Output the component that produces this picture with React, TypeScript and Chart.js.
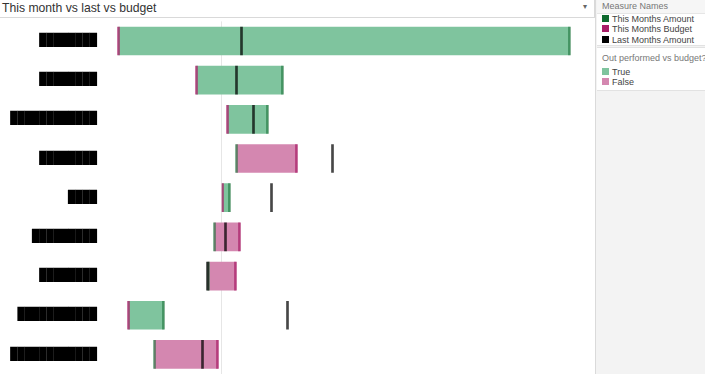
import React, { useEffect, useRef } from "react";
import { Chart, registerables } from "chart.js";
Chart.register(...registerables);

// Category labels (redacted in the reference)
const categories = [
  "████████",
  "████████",
  "████████████",
  "████████",
  "████",
  "█████████",
  "████████",
  "███████████",
  "████████████",
];
const thisMonthsAmount = [348, 61, 46, 15, 8, -7, -13, -58, -67];
const thisMonthsBudget = [-103, -25, 6, 75, 1, 18, 14, -93, -4];
const lastMonthsAmount = [20, 15, 32, 111, 50, 4, -14, 66, -19];

const measureNames = ["This Months Amount", "This Months Budget", "Last Months Amount"];
const measureColors = ["#0f6a2e", "#a81d67", "#000000"];
const outperformedNames = ["True", "False"];
const outperformedColors = ["#7fc49e", "#d487b0"];

const X_MIN = -121.5;
const X_MAX = 370.5;
const MARK_HALF = 1;

export default function App() {
  const ref = useRef<HTMLCanvasElement | null>(null);

  useEffect(() => {
    if (!ref.current) return;
    const mark = (vals: number[]) => vals.map((v) => [v - MARK_HALF, v + MARK_HALF]);
    const chart = new Chart(ref.current, {
      type: "bar",
      data: {
        labels: categories,
        datasets: [
          {
            label: "range",
            data: categories.map((_, i) => [thisMonthsBudget[i], thisMonthsAmount[i]]),
            backgroundColor: categories.map((_, i) =>
              thisMonthsAmount[i] >= thisMonthsBudget[i] ? outperformedColors[0] : outperformedColors[1]
            ),
            barThickness: 28,
            grouped: false,
            order: 4,
          } as any,
          {
            label: measureNames[0],
            data: mark(thisMonthsAmount),
            backgroundColor: "rgba(15,106,46,0.6)",
            barThickness: 28,
            grouped: false,
            order: 3,
          } as any,
          {
            label: measureNames[1],
            data: mark(thisMonthsBudget),
            backgroundColor: "rgba(168,29,103,0.75)",
            barThickness: 28,
            grouped: false,
            order: 2,
          } as any,
          {
            label: measureNames[2],
            data: mark(lastMonthsAmount),
            backgroundColor: "rgba(0,0,0,0.72)",
            barThickness: 28,
            grouped: false,
            order: 1,
          } as any,
        ],
      },
      options: {
        indexAxis: "y",
        animation: false,
        responsive: false,
        maintainAspectRatio: false,
        devicePixelRatio: 1,
        layout: { padding: { top: 2.4, bottom: 0, left: 0, right: 0 } },
        plugins: { legend: { display: false }, tooltip: { enabled: false } },
        scales: {
          x: {
            type: "linear",
            min: X_MIN,
            max: X_MAX,
            afterBuildTicks: (s: any) => {
              s.ticks = [{ value: 0 }];
            },
            afterFit: (s: any) => {
              s.height = 0;
              s.paddingLeft = 0;
              s.paddingRight = 0;
            },
            ticks: { display: false },
            grid: { color: "#e6e6e6", drawTicks: false },
            border: { display: false },
          },
          y: {
            grid: { display: false, drawTicks: false },
            border: { display: false },
            ticks: {
              color: "#000",
              padding: 3,
              font: { family: "DejaVu Sans Mono", size: 12 },
            },
            afterFit: (s: any) => {
              s.width = 100;
              s.paddingTop = 0;
              s.paddingBottom = 0;
            },
          },
        },
      } as any,
    });
    return () => chart.destroy();
  }, []);

  const font = '"Liberation Sans", Arial, sans-serif';

  return (
    <div style={{ position: "fixed", left: 0, top: 0, width: 705, height: 374, background: "#fff", overflow: "hidden", fontFamily: font }}>
      <div
        style={{
          position: "absolute",
          left: 0,
          top: 0,
          width: 594,
          height: 17,
          borderBottom: "1px solid #d9d9d9",
          borderRight: "1px solid #d9d9d9",
          boxSizing: "content-box",
        }}
      >
        <div style={{ position: "absolute", left: 2, top: 1, fontSize: 12.2, lineHeight: "15px", color: "#333", whiteSpace: "nowrap" }}>
          This month vs last vs budget
        </div>
        <div style={{ position: "absolute", left: 583, top: 2, fontSize: 8, lineHeight: "10px", color: "#666" }}>▾</div>
      </div>
      <canvas ref={ref} width={592} height={355} style={{ position: "absolute", left: 0, top: 19, width: 592, height: 355 }} />
      <div
        style={{
          position: "absolute",
          left: 595,
          top: 0,
          width: 110,
          height: 374,
          background: "#f3f3f3",
          borderLeft: "1px solid #dadada",
        }}
      >
        <div style={{ position: "absolute", left: 1, top: 0, width: 109, height: 45, background: "#fff", borderBottom: "1px solid #e2e2e2" }}>
          <div style={{ position: "absolute", left: 0, top: 0, width: 109, height: 13, background: "#f6f6f6", borderBottom: "1px solid #e6e6e6" }} />
          <div style={{ position: "absolute", left: 5, top: 0, fontSize: 9, lineHeight: "12px", color: "#777", whiteSpace: "nowrap" }}>Measure Names</div>
          {measureNames.map((n, i) => (
            <div key={n} style={{ position: "absolute", left: 5, top: 14 + i * 10.3, height: 10, whiteSpace: "nowrap" }}>
              <div style={{ position: "absolute", left: 0, top: 1, width: 7, height: 7, background: measureColors[i] }} />
              <div style={{ position: "absolute", left: 10, top: 0, fontSize: 9, lineHeight: "10px", color: "#444" }}>{n}</div>
            </div>
          ))}
        </div>
        <div style={{ position: "absolute", left: 1, top: 47, width: 109, height: 42, background: "#fff", borderTop: "1px solid #e2e2e2", borderBottom: "1px solid #e2e2e2" }}>
          <div style={{ position: "absolute", left: 5, top: 4, fontSize: 9, lineHeight: "12px", color: "#777", whiteSpace: "nowrap" }}>Out performed vs budget?</div>
          {outperformedNames.map((n, i) => (
            <div key={n} style={{ position: "absolute", left: 5, top: 19 + i * 10, height: 10, whiteSpace: "nowrap" }}>
              <div style={{ position: "absolute", left: 0, top: 1, width: 7, height: 7, background: outperformedColors[i] }} />
              <div style={{ position: "absolute", left: 10, top: 0, fontSize: 9, lineHeight: "10px", color: "#444" }}>{n}</div>
            </div>
          ))}
        </div>
      </div>
    </div>
  );
}
